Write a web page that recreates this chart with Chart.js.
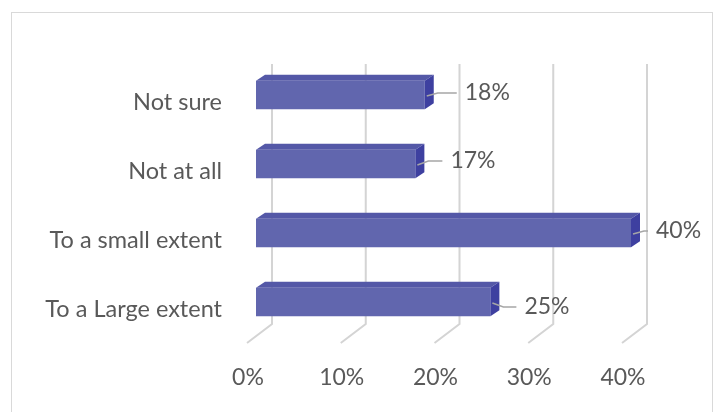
<!DOCTYPE html>
<html lang="en">
<head>
    <meta charset="UTF-8">
    <title>Extent chart</title>
    <script src="https://cdn.jsdelivr.net/npm/chart.js"></script>
    <style>
        html, body {
            margin: 0;
            padding: 0;
            background: #ffffff;
        }

        .frame {
            position: absolute;
            left: 11px;
            top: 12px;
            width: 702px;
            height: 420px;
            border: 1px solid #d9d9d9;
            box-sizing: border-box;
        }

        .chart-box {
            position: absolute;
            left: 0;
            top: 0;
            width: 720px;
            height: 412px;
        }
    </style>
</head>
<body>

<div class="frame"></div>
<div class="chart-box">
    <canvas id="extentChart"></canvas>
</div>

<script>
    // categories, top to bottom
    const categories = ['Not sure', 'Not at all', 'To a small extent', 'To a Large extent'];
    // share of answers, percent
    const shares = [18, 17, 40, 25];
    const xTicks = [0, 10, 20, 30, 40];

    const FRONT = '#6166ae';
    const TOP = '#5458a7';
    const SIDE = '#3e40a0';
    const TEXT = '#595959';

    // depth of the bars and of the floor
    const barDepth = { dx: 9, dy: -6 };
    const wallTop = 64;
    const wallBottom = 324;
    const floorFront = { dx: -9, y: 343 };
    const wallShift = 16;

    // where each value label sits relative to the bar end
    const labelNudge = [
        { dx: 40, dy: -2 },
        { dx: 35, dy: -3 },
        { dx: 25, dy: -2 },
        { dx: 34, dy: 5 }
    ];

    // back wall + floor gridlines, drawn behind the bars
    const gridPlugin = {
        id: 'grid3d',
        beforeDatasetsDraw(chart) {
            const ctx = chart.ctx;
            const xs = chart.scales.x;
            ctx.save();
            ctx.strokeStyle = '#d4d4d4';
            ctx.lineWidth = 2;
            xTicks.forEach(v => {
                const px = xs.getPixelForValue(v);
                ctx.beginPath();
                ctx.moveTo(px + wallShift, wallTop);
                ctx.lineTo(px + wallShift, wallBottom);
                ctx.lineTo(px + floorFront.dx, floorFront.y);
                ctx.stroke();
            });
            ctx.restore();
        }
    };

    // top and side faces of the bars, plus the value labels with leader lines
    const boxPlugin = {
        id: 'box3d',
        afterDatasetsDraw(chart) {
            const ctx = chart.ctx;
            const meta = chart.getDatasetMeta(0);
            ctx.save();
            meta.data.forEach((bar, i) => {
                const p = bar.getProps(['x', 'y', 'base', 'height'], true);
                const left = p.base, right = p.x;
                const top = p.y - p.height / 2, bottom = p.y + p.height / 2;
                const dx = barDepth.dx, dy = barDepth.dy;

                ctx.fillStyle = TOP;
                ctx.beginPath();
                ctx.moveTo(left, top);
                ctx.lineTo(left + dx, top + dy);
                ctx.lineTo(right + dx, top + dy);
                ctx.lineTo(right, top);
                ctx.closePath();
                ctx.fill();

                ctx.fillStyle = SIDE;
                ctx.beginPath();
                ctx.moveTo(right, top);
                ctx.lineTo(right + dx, top + dy);
                ctx.lineTo(right + dx, bottom + dy);
                ctx.lineTo(right, bottom);
                ctx.closePath();
                ctx.fill();

                // value label
                const n = labelNudge[i];
                const lx = right + n.dx;
                const ly = p.y + n.dy;
                ctx.strokeStyle = '#a6a6a6';
                ctx.lineWidth = 1.5;
                ctx.beginPath();
                ctx.moveTo(right + 2, p.y + 1);
                ctx.lineTo(right + dx + 4, ly);
                ctx.lineTo(lx - 8, ly);
                ctx.stroke();

                ctx.fillStyle = TEXT;
                ctx.font = '23px Lato';
                ctx.textAlign = 'left';
                ctx.textBaseline = 'middle';
                ctx.fillText(shares[i] + '%', lx, ly);
            });
            ctx.restore();
        }
    };

    const ctx = document.getElementById('extentChart').getContext('2d');
    const extentChart = new Chart(ctx, {
        type: 'bar',
        data: {
            labels: categories,
            datasets: [{
                data: shares,
                backgroundColor: FRONT,
                borderWidth: 0,
                categoryPercentage: 1,
                barPercentage: 0.41
            }]
        },
        options: {
            indexAxis: 'y',
            responsive: true,
            maintainAspectRatio: false,
            animation: false,
            layout: {
                padding: { left: 0, top: 60.5, right: 89, bottom: 0 }
            },
            plugins: {
                legend: { display: false },
                tooltip: { enabled: false }
            },
            scales: {
                x: {
                    min: 0,
                    max: 40,
                    afterFit(scale) { scale.height = 75.5; },
                    afterBuildTicks(scale) {
                        scale.ticks = xTicks.map(v => ({ value: v }));
                    },
                    grid: { display: false },
                    border: { display: false },
                    ticks: {
                        color: TEXT,
                        font: { family: 'Lato', size: 23 },
                        padding: 19,
                        labelOffset: -8,
                        maxRotation: 0,
                        callback: v => v + '%'
                    }
                },
                y: {
                    afterFit(scale) { scale.width = 256; },
                    grid: { display: false },
                    border: { display: false },
                    ticks: {
                        color: TEXT,
                        font: { family: 'Lato', size: 23.5 },
                        padding: 26,
                        labelOffset: 7
                    }
                }
            }
        },
        plugins: [gridPlugin, boxPlugin]
    });
</script>

</body>
</html>
